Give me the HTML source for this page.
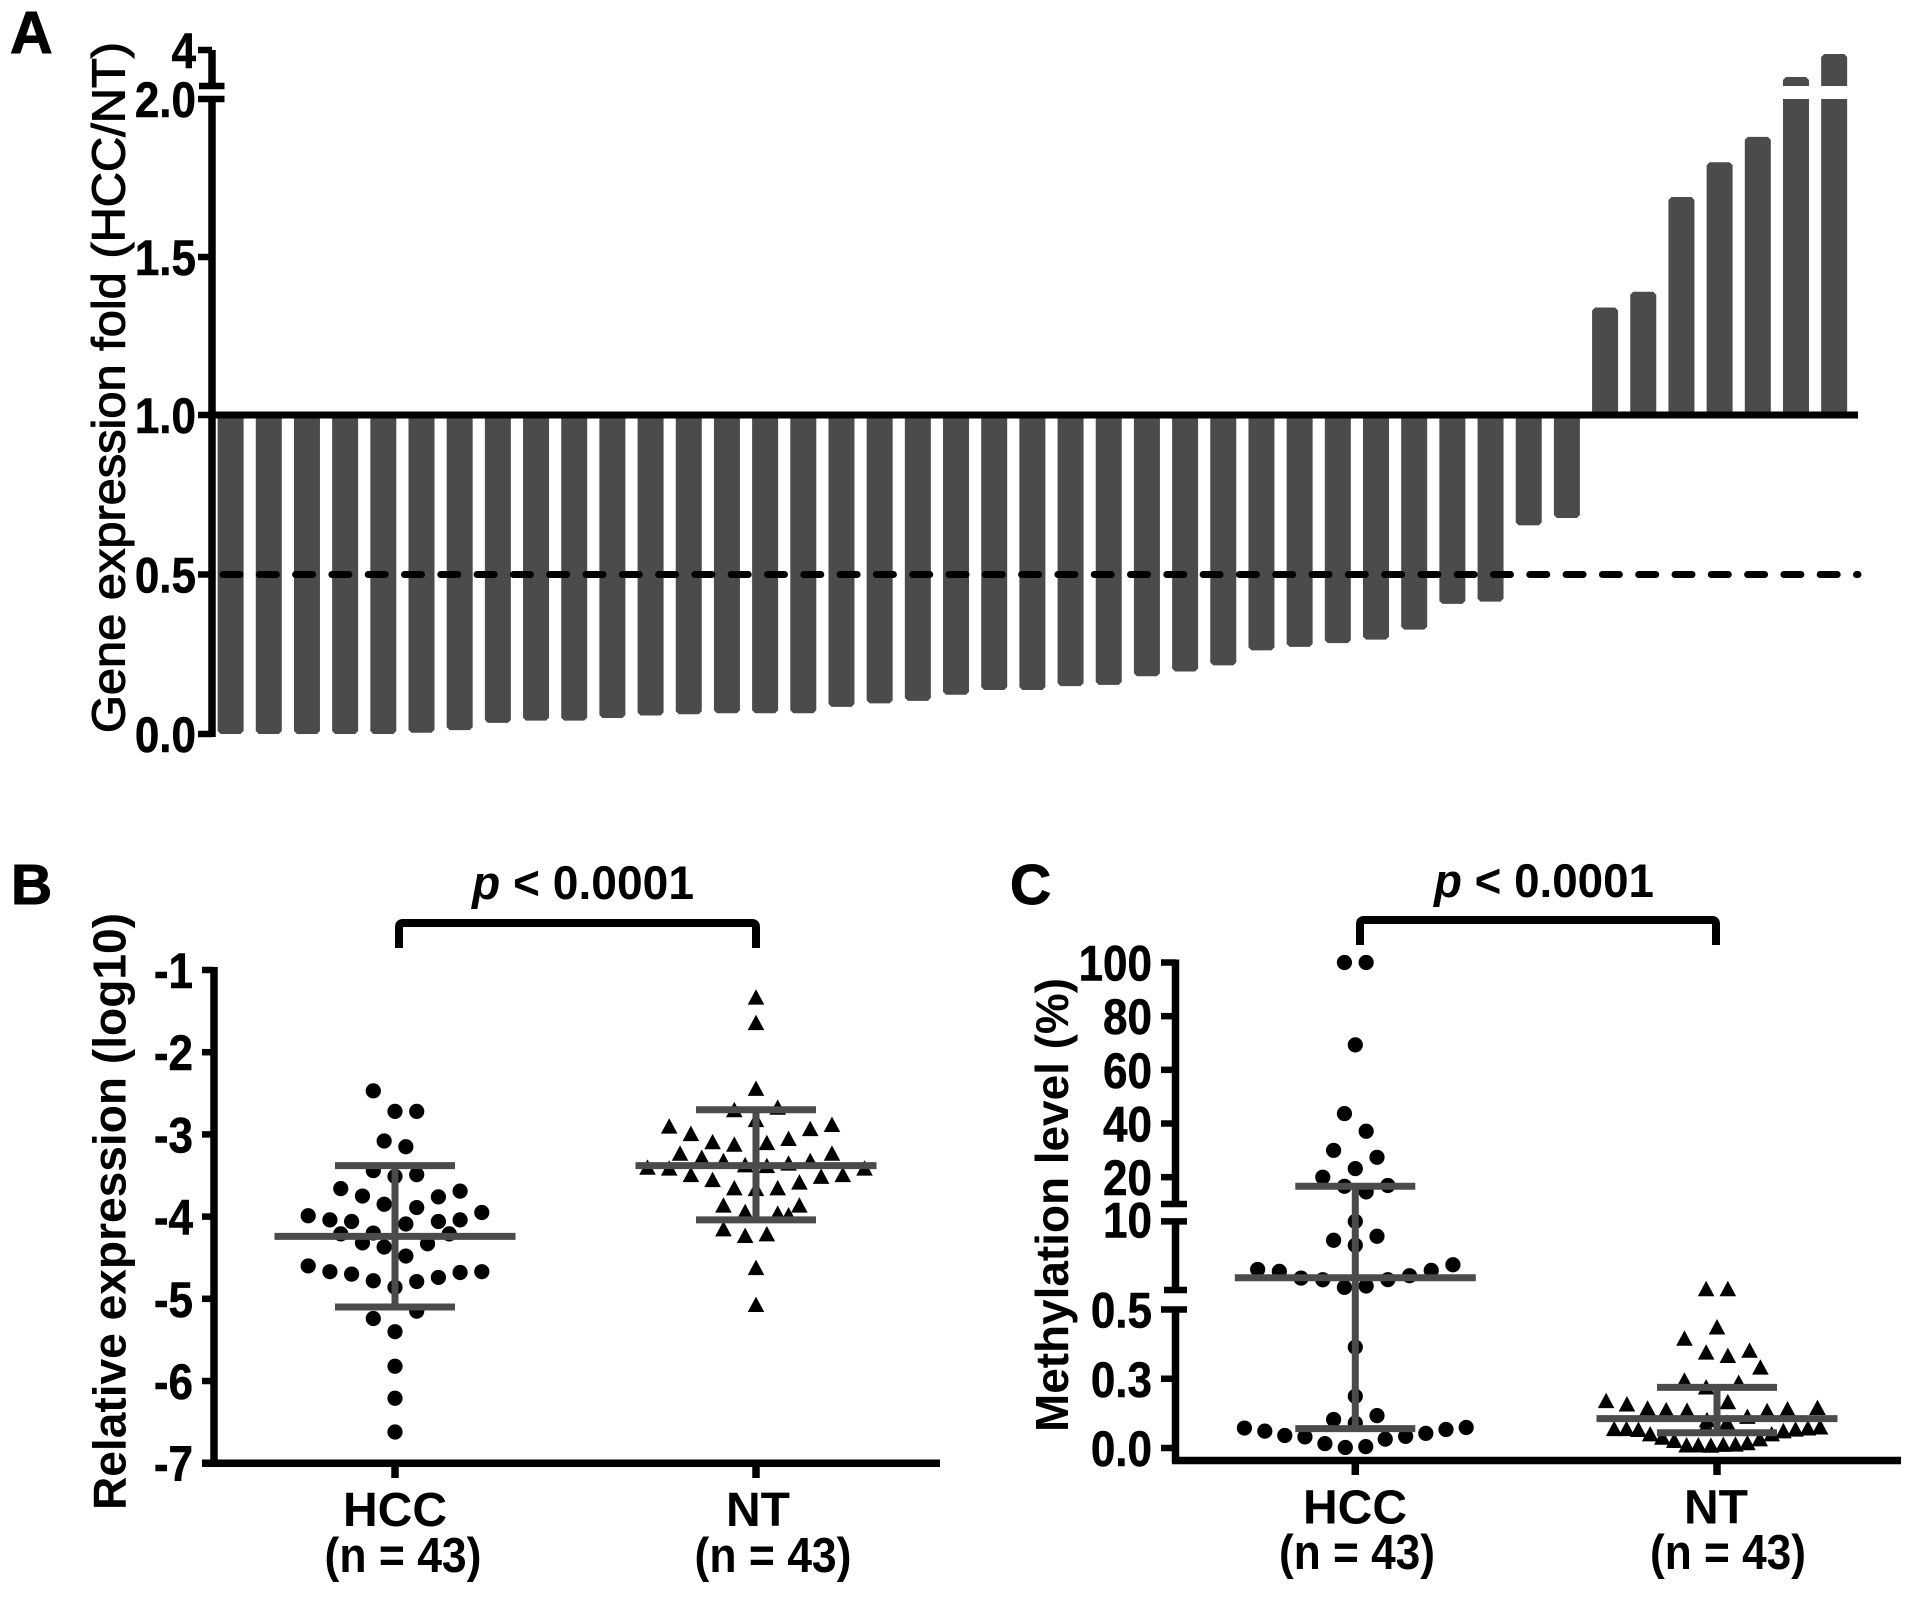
<!DOCTYPE html>
<html lang="en">
<head>
<meta charset="utf-8">
<title>Gene expression and methylation charts</title>
<style>
html,body{margin:0;padding:0;background:#fff;}
svg{display:block;}
text{font-family:"Liberation Sans",sans-serif;fill:#000;}
.b{font-weight:700;}
</style>
</head>
<body>
<svg id="fig" xmlns="http://www.w3.org/2000/svg" width="1913" height="1599" viewBox="0 0 1913 1599">
<rect width="1913" height="1599" fill="#fff"/>
<g id="panelA">
<text class="b" x="10" y="53" font-size="59" stroke="#000" stroke-width="1">A</text>
<text x="124.5" y="733" font-size="46" stroke="#000" stroke-width="1.1" textLength="691" lengthAdjust="spacingAndGlyphs" transform="rotate(-90 124.5 733)">Gene expression fold (HCC/NT)</text>
</g>
<g id="panelB">
<text class="b" x="11" y="904" font-size="57" stroke="#000" stroke-width="1">B</text>
<text class="b" x="125.5" y="1510" font-size="46" textLength="597" lengthAdjust="spacingAndGlyphs" transform="rotate(-90 125.5 1510)">Relative expression (log10)</text>
<text class="b" x="472" y="899" font-size="47" textLength="222" lengthAdjust="spacingAndGlyphs"><tspan font-style="italic">p</tspan> &lt; 0.0001</text>
<path d="M399 947V926Q399 922 403 922H752Q756 922 756 926V947" transform="translate(0 1)" fill="none" stroke="#000" stroke-width="8"/>
<text class="b" x="395" y="1526" font-size="48" text-anchor="middle">HCC</text>
<text class="b" x="403" y="1572" font-size="49" text-anchor="middle" textLength="157" lengthAdjust="spacingAndGlyphs">(n = 43)</text>
<text class="b" x="758" y="1526" font-size="48" text-anchor="middle">NT</text>
<text class="b" x="773" y="1572" font-size="49" text-anchor="middle" textLength="157" lengthAdjust="spacingAndGlyphs">(n = 43)</text>
</g>
<g id="panelC">
<text class="b" x="1010" y="904" font-size="57" stroke="#000" stroke-width="1">C</text>
<text class="b" x="1068" y="1432" font-size="46" textLength="454" lengthAdjust="spacingAndGlyphs" transform="rotate(-90 1068 1432)">Methylation level (%)</text>
<text class="b" x="1434" y="897" font-size="47" textLength="220" lengthAdjust="spacingAndGlyphs"><tspan font-style="italic">p</tspan> &lt; 0.0001</text>
<path d="M1360 945V924Q1360 920 1364 920H1712Q1716 920 1716 924V945" fill="none" stroke="#000" stroke-width="8"/>
<text class="b" x="1355" y="1523.5" font-size="48" text-anchor="middle">HCC</text>
<text class="b" x="1357" y="1569" font-size="49" text-anchor="middle" textLength="156" lengthAdjust="spacingAndGlyphs">(n = 43)</text>
<text class="b" x="1716" y="1523.5" font-size="48" text-anchor="middle">NT</text>
<text class="b" x="1728" y="1569" font-size="49" text-anchor="middle" textLength="156" lengthAdjust="spacingAndGlyphs">(n = 43)</text>
</g>
</svg>
<script>
// Panel A data
const foldValues = [0,0,0,0,0,0.004,0.012,0.035,0.042,0.042,0.05,0.058,0.062,0.065,0.065,0.065,0.085,0.096,0.104,0.123,0.138,0.138,0.15,0.154,0.181,0.196,0.215,0.262,0.273,0.285,0.296,0.327,0.408,0.415,0.654,0.677,1.34,1.39,1.69,1.80,1.88,2.5,3.78];
const foldTickValues = [0,0.5,1,1.5,2,4];
const foldTickLabels = ["0.0","0.5","1.0","1.5","2.0","4"];
const foldReference = 1;
const foldThreshold = 0.5;

// Panel B data
const bHccValues = [-2.47,-2.72,-2.72,-3.08,-3.15,-3.44,-3.51,-3.49,-3.66,-3.75,-3.85,-3.89,-3.76,-3.69,-3.99,-4.04,-4.06,-4.09,-4.06,-4.04,-3.95,-4.21,-4.20,-4.21,-4.32,-4.37,-4.33,-4.48,-4.60,-4.67,-4.70,-4.78,-4.86,-4.79,-4.74,-4.68,-4.67,-5.24,-5.15,-5.40,-5.82,-6.21,-6.62];
const bHccSwarm = [-1,0,1,-0.5,0.5,-1,0,1,-2.5,-1.5,-0.5,1,2,3,-4,-3,-2,0.5,2,3,4,-2.5,-1,2.5,-1.5,-0.5,1.5,0.5,-4,-3,-2,-1,0,1,2,3,4,-1,1,0,0,0,0];
const bNtValues = [-1.33,-1.64,-2.44,-2.70,-2.67,-2.82,-2.90,-2.99,-3.09,-3.12,-3.10,-3.05,-2.93,-2.88,-3.23,-3.28,-3.32,-3.37,-3.38,-3.35,-3.32,-3.23,-3.40,-3.41,-3.49,-3.55,-3.51,-3.49,-3.41,-3.58,-3.65,-3.66,-3.65,-3.86,-3.94,-3.96,-3.98,-3.86,-4.15,-4.23,-4.21,-4.62,-5.07];
const bNtSwarm = [0,0,0,-1,1,0,-4,-3,-2,-1,0.5,1.5,2.5,3.5,-3.5,-2.5,-1.5,-0.5,0.5,1.5,2.5,3.5,-5,-4,-3,-2,3,4,5,2,-1,0,1,-1.5,-0.5,1,1.5,2,-1.5,-0.5,0.5,0,0];
const bHccSummary = [-4.24,-3.38,-5.10];
const bNtSummary = [-3.38,-2.70,-4.04];
const bTickValues = [-1,-2,-3,-4,-5,-6,-7];
const bTickLabels = ["-1","-2","-3","-4","-5","-6","-7"];

// Panel C data
const cHccValues = [100,100,69.3,43.7,37.1,30,27.4,23.2,20,16.6,16.9,14.5,10,7.39,7.94,6.70,3.35,3.08,2.15,1.92,0.87,1.05,1.93,2.48,3.22,4.0,0.364,0.187,0.103,0.117,0.09,0.072,0.061,0.045,0.04,0.016,0.002,0.005,0.032,0.042,0.053,0.067,0.074];
const cHccSwarm = [-0.5,0.5,0,-0.5,0.5,-1,1,0,-1.5,-0.5,1.5,0.5,0,-1,1,0,-4.5,-3.5,-2.5,-1.5,-0.5,0.5,1.5,2.5,3.5,4.5,0,0,-1,1,0,-5.11,-4.17,-3.25,-2.32,-1.4,-0.46,0.48,1.38,2.32,3.25,4.18,5.11];
const cNtValues = [0.68,0.68,0.437,0.396,0.346,0.334,0.353,0.292,0.245,0.22,0.237,0.167,0.171,0.159,0.144,0.138,0.136,0.102,0.093,0.114,0.135,0.141,0.146,0.0815,0.075,0.07,0.07,0.067,0.051,0.039,0.027,0.011,0.011,0.01,0.013,0.014,0.019,0.033,0.051,0.062,0.068,0.072,0.076];
const cNtSwarm = [-0.5,0.5,0,-1.5,-0.5,0.5,1.5,2,-1.5,-0.5,1,0.5,-5.11,-4.15,-3.2,-2.34,-1.38,-0.46,0.46,1.4,2.31,3.25,4.63,-0.5,0.5,-4.74,-4.17,-3.62,-3.08,-2.52,-1.97,-1.4,-0.86,-0.28,0.29,0.85,1.4,1.97,2.52,3.06,3.62,4.19,4.75];
const cHccSummary = [2.19,16.6,0.07];
const cNtSummary = [0.106,0.219,0.055];
const cTickValues = [100,80,60,40,20,10,0.5,0.25,0];
const cTickLabels = ["100","80","60","40","20","10","0.5","0.3","0.0"];

const NS = 'http://www.w3.org/2000/svg';
const INK = '#000';
const BAR = '#4b4b4b';
const SWARM_STEP = 21.7;

function mk(parent, tag, attrs) {
  const el = document.createElementNS(NS, tag);
  for (const k in attrs) el.setAttribute(k, attrs[k]);
  parent.appendChild(el);
  return el;
}
function line(parent, x1, y1, x2, y2, color, w) {
  return mk(parent, 'line', {x1: x1, y1: y1, x2: x2, y2: y2, stroke: color, 'stroke-width': w});
}
function tickLabel(parent, x, y, str) {
  const lab = mk(parent, 'text', {transform: 'translate(' + x + ' ' + (y + 18) + ') scale(1 1.13)', 'text-anchor': 'end', 'font-size': 44, 'font-weight': 700, stroke: INK, 'stroke-width': 0.5});
  lab.textContent = str;
  return lab;
}

// Axis functions
function xA(i) { return 230.6 + i * 38.18; }
function yA(v) {
  if (v <= 1) return 734 - v * 319;
  if (v <= 2) return 415 - (v - 1) * 316;
  return 86 - (v - 2) * 18;
}
function yB(v) { return 970 + (-1 - v) * 82.2; }
const cSegments = [
  {lo: 0, hi: 0.5, y0: 1448, y1: 1309.5},
  {lo: 0.5, hi: 10, y0: 1290, y1: 1221.4},
  {lo: 10, hi: 100, y0: 1204, y1: 962.5}
];
function yC(v) {
  let s = cSegments[cSegments.length - 1];
  for (const seg of cSegments) { if (v <= seg.hi) { s = seg; break; } }
  return s.y0 + (v - s.lo) / (s.hi - s.lo) * (s.y1 - s.y0);
}

// Panel A
const gA = document.getElementById('panelA');
function chamferPath(x, w, yStart, yEnd) {
  const dir = yEnd > yStart ? -1 : 1;
  const c = Math.min(3, Math.abs(yEnd - yStart));
  return 'M' + x + ' ' + yStart + 'V' + (yEnd + dir * c) + 'L' + (x + c) + ' ' + yEnd + 'H' + (x + w - c) + 'L' + (x + w) + ' ' + (yEnd + dir * c) + 'V' + yStart + 'Z';
}
foldValues.forEach(function (v, i) {
  const x = xA(i) - 13;
  const base = yA(foldReference);
  if (v > 2) {
    const low = mk(gA, 'rect', {x: x, y: yA(2) , width: 26, height: base - yA(2), fill: BAR});
    
    
    const up = mk(gA, 'path', {d: chamferPath(x, 26, 86, yA(v)), fill: BAR});
    
    
  } else {
    const b = mk(gA, 'path', {d: chamferPath(x, 26, base, yA(v)), fill: BAR});
    
    
  }
});
const thresh = mk(gA, 'line', {x1: 223, y1: yA(foldThreshold), x2: 1858, y2: yA(foldThreshold), stroke: INK, 'stroke-width': 7, 'stroke-linecap': 'round', 'stroke-dasharray': '17 19.3'});


const refLine = line(gA, 212, yA(foldReference), 1858, yA(foldReference), INK, 7);


const axisA1 = line(gA, 212, yA(2), 212, 737, INK, 7.5);


const axisA2 = line(gA, 212, 86, 212, 50, INK, 7.5);


foldTickValues.forEach(function (v, i) {
  const y = yA(v);
  const t = line(gA, 198, y, v === 2 ? 224.5 : 212, y, INK, 6.5);
  
  
  const lab = tickLabel(gA, 196, y, foldTickLabels[i]);
  
  
});
const breakA = line(gA, 199, 86, 224.5, 86, INK, 6.5);



// Shared scatter drawing
function circles(g, values, swarm, cx, yFn) {
  values.forEach(function (v, i) {
    const c = mk(g, 'circle', {cx: cx + swarm[i] * SWARM_STEP, cy: yFn(v), r: 7.6, fill: INK});
    
    
  });
}
function triangles(g, values, swarm, cx, yFn) {
  values.forEach(function (v, i) {
    const x = cx + swarm[i] * SWARM_STEP;
    const y = yFn(v);
    const p = mk(g, 'polygon', {points: x + ',' + (y - 7.9) + ' ' + (x + 8.3) + ',' + (y + 7.5) + ' ' + (x - 8.3) + ',' + (y + 7.5), fill: INK});
    
    
  });
}
function summary(g, s, cx, yFn, segs) {
  if (segs) {
    segs.forEach(function (seg) {
      const lo = Math.max(seg.lo, s[2]);
      const hi = Math.min(seg.hi, s[1]);
      if (hi > lo) {
        const st = line(g, cx, yFn(lo), cx, seg.hi <= s[1] ? seg.y1 : yFn(hi), BAR, 7);
        
        
      }
    });
  } else {
    const st = line(g, cx, yFn(s[2]), cx, yFn(s[1]), BAR, 7);
    
    
  }
  const m = line(g, cx - 120.5, yFn(s[0]), cx + 120.5, yFn(s[0]), BAR, 7);
  
  
  const u = line(g, cx - 60, yFn(s[1]), cx + 60, yFn(s[1]), BAR, 7);
  
  
  const l = line(g, cx - 60, yFn(s[2]), cx + 60, yFn(s[2]), BAR, 7);
  
  
}

// Panel B
const gB = document.getElementById('panelB');
const xB = [395, 756];
circles(gB, bHccValues, bHccSwarm, xB[0], yB);
triangles(gB, bNtValues, bNtSwarm, xB[1], yB);
summary(gB, bHccSummary, xB[0], yB);
summary(gB, bNtSummary, xB[1], yB);
const axisBy = line(gB, 214, yB(-1) - 3, 214, yB(-7) + 3.5, INK, 7.5);


const axisBx = line(gB, 202, yB(-7), 940, yB(-7), INK, 7.5);


bTickValues.forEach(function (v, i) {
  const y = yB(v);
  const t = line(gB, 202, y, 214, y, INK, 6.5);
  
  
  const lab = tickLabel(gB, 193, y, bTickLabels[i]);
  
  
});
xB.forEach(function (x) {
  const t = line(gB, x, yB(-7), x, 1478, INK, 7.5);
  
  
});

// Panel C
const gC = document.getElementById('panelC');
const xC = [1355.3, 1717];
circles(gC, cHccValues, cHccSwarm, xC[0], yC);
triangles(gC, cNtValues, cNtSwarm, xC[1], yC);
summary(gC, cHccSummary, xC[0], yC, cSegments);
summary(gC, cNtSummary, xC[1], yC);
cSegments.forEach(function (seg, i) {
  const a = line(gC, 1175.5, i === 0 ? 1463 : seg.y0, 1175.5, seg.y1 - (i === 2 ? 3 : 0), INK, 7.5);
  
  
  if (i > 0) {
    const br = line(gC, i === 2 ? 1161 : 1164, seg.y0, 1187, seg.y0, INK, 6.5);
    
    
  }
});
const axisCx = line(gC, 1172, 1460.5, 1901, 1460.5, INK, 7.5);


cTickValues.forEach(function (v, i) {
  const y = yC(v);
  const isBreak = v === 10 || v === 0.5;
  const t = line(gC, 1161, y, isBreak ? 1187 : 1175.5, y, INK, 6.5);
  
  
  const lab = tickLabel(gC, 1152, v === 10 ? y - 2 : y, cTickLabels[i]);
  
  
});
xC.forEach(function (x) {
  const t = line(gC, x, 1460.5, x, 1475, INK, 7.5);
  
  
});
</script>
</body>
</html>
